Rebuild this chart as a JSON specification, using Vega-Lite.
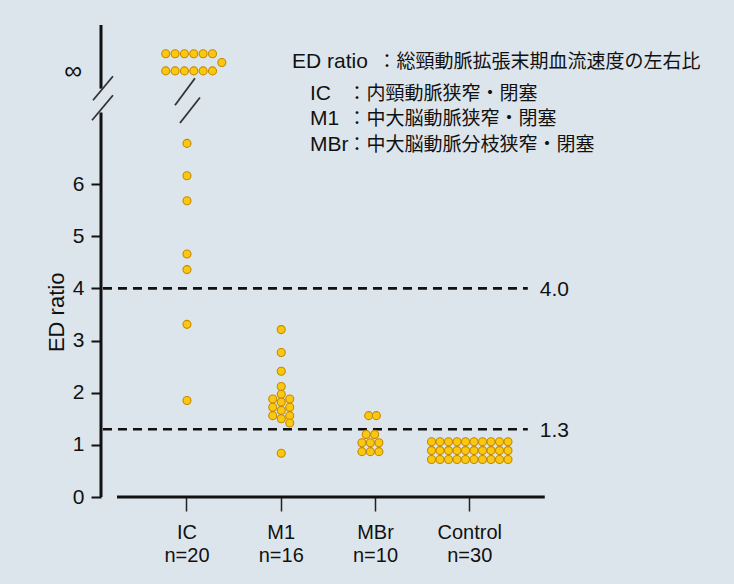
{
  "$schema": "https://vega.github.io/schema/vega-lite/v6.json",
  "width": 463,
  "height": 472,
  "autosize": {"type": "none"},
  "padding": {"left": 101, "top": 25, "right": 170, "bottom": 87},
  "background": "#dde5ec",
  "config": {
    "view": {"stroke": null},
    "font": "Liberation Sans",
    "axisY": {"tickSize": 10, "tickWidth": 2, "tickColor": "#111111", "labelPadding": 7, "labelFontSize": 21, "labelColor": "#111111", "domain": false, "grid": false}
  },
  "data": {"values": [{}]},
  "datasets": {
    "dots": [
      {"group": "IC", "ratio": 6.78, "col": 0},
      {"group": "IC", "ratio": 6.16, "col": 0},
      {"group": "IC", "ratio": 5.68, "col": 0},
      {"group": "IC", "ratio": 4.66, "col": 0},
      {"group": "IC", "ratio": 4.36, "col": 0},
      {"group": "IC", "ratio": 3.31, "col": 0},
      {"group": "IC", "ratio": 1.85, "col": 0},
      {"group": "IC", "ratio": 8.5, "col": -2.5},
      {"group": "IC", "ratio": 8.5, "col": -1.4},
      {"group": "IC", "ratio": 8.5, "col": -0.3},
      {"group": "IC", "ratio": 8.5, "col": 0.8},
      {"group": "IC", "ratio": 8.5, "col": 1.9},
      {"group": "IC", "ratio": 8.5, "col": 3.0},
      {"group": "IC", "ratio": 8.17, "col": -2.5},
      {"group": "IC", "ratio": 8.17, "col": -1.4},
      {"group": "IC", "ratio": 8.17, "col": -0.3},
      {"group": "IC", "ratio": 8.17, "col": 0.8},
      {"group": "IC", "ratio": 8.17, "col": 1.9},
      {"group": "IC", "ratio": 8.17, "col": 3.0},
      {"group": "IC", "ratio": 8.33, "col": 4.1},
      {"group": "M1", "ratio": 3.21, "col": 0},
      {"group": "M1", "ratio": 2.77, "col": 0},
      {"group": "M1", "ratio": 2.41, "col": 0},
      {"group": "M1", "ratio": 2.12, "col": 0},
      {"group": "M1", "ratio": 1.97, "col": 0},
      {"group": "M1", "ratio": 1.82, "col": 0},
      {"group": "M1", "ratio": 1.66, "col": 0},
      {"group": "M1", "ratio": 1.5, "col": 0},
      {"group": "M1", "ratio": 1.88, "col": -1},
      {"group": "M1", "ratio": 1.72, "col": -1},
      {"group": "M1", "ratio": 1.56, "col": -1},
      {"group": "M1", "ratio": 1.88, "col": 1},
      {"group": "M1", "ratio": 1.72, "col": 1},
      {"group": "M1", "ratio": 1.56, "col": 1},
      {"group": "M1", "ratio": 1.42, "col": 1},
      {"group": "M1", "ratio": 0.84, "col": 0},
      {"group": "MBr", "ratio": 1.56, "col": -0.8},
      {"group": "MBr", "ratio": 1.56, "col": 0.1},
      {"group": "MBr", "ratio": 1.2, "col": -1.1},
      {"group": "MBr", "ratio": 1.2, "col": -0.1},
      {"group": "MBr", "ratio": 1.04, "col": -1.6},
      {"group": "MBr", "ratio": 1.04, "col": -0.6},
      {"group": "MBr", "ratio": 1.04, "col": 0.4},
      {"group": "MBr", "ratio": 0.87, "col": -1.6},
      {"group": "MBr", "ratio": 0.87, "col": -0.6},
      {"group": "MBr", "ratio": 0.87, "col": 0.4},
      {"group": "Control", "ratio": 1.06, "col": -4.5},
      {"group": "Control", "ratio": 1.06, "col": -3.5},
      {"group": "Control", "ratio": 1.06, "col": -2.5},
      {"group": "Control", "ratio": 1.06, "col": -1.5},
      {"group": "Control", "ratio": 1.06, "col": -0.5},
      {"group": "Control", "ratio": 1.06, "col": 0.5},
      {"group": "Control", "ratio": 1.06, "col": 1.5},
      {"group": "Control", "ratio": 1.06, "col": 2.5},
      {"group": "Control", "ratio": 1.06, "col": 3.5},
      {"group": "Control", "ratio": 1.06, "col": 4.5},
      {"group": "Control", "ratio": 0.89, "col": -4.5},
      {"group": "Control", "ratio": 0.89, "col": -3.5},
      {"group": "Control", "ratio": 0.89, "col": -2.5},
      {"group": "Control", "ratio": 0.89, "col": -1.5},
      {"group": "Control", "ratio": 0.89, "col": -0.5},
      {"group": "Control", "ratio": 0.89, "col": 0.5},
      {"group": "Control", "ratio": 0.89, "col": 1.5},
      {"group": "Control", "ratio": 0.89, "col": 2.5},
      {"group": "Control", "ratio": 0.89, "col": 3.5},
      {"group": "Control", "ratio": 0.89, "col": 4.5},
      {"group": "Control", "ratio": 0.72, "col": -4.5},
      {"group": "Control", "ratio": 0.72, "col": -3.5},
      {"group": "Control", "ratio": 0.72, "col": -2.5},
      {"group": "Control", "ratio": 0.72, "col": -1.5},
      {"group": "Control", "ratio": 0.72, "col": -0.5},
      {"group": "Control", "ratio": 0.72, "col": 0.5},
      {"group": "Control", "ratio": 0.72, "col": 1.5},
      {"group": "Control", "ratio": 0.72, "col": 2.5},
      {"group": "Control", "ratio": 0.72, "col": 3.5},
      {"group": "Control", "ratio": 0.72, "col": 4.5}
    ],
    "thresholds": [{"ratio": 4.0}, {"ratio": 1.3}]
  },
  "resolve": {"scale": {"x": "independent"}, "axis": {"x": "independent"}},
  "layer": [
    {
      "layer": [
        {
          "data": {"name": "thresholds"},
          "mark": {"type": "rule", "strokeDash": [9, 6], "strokeWidth": 2.6, "color": "#111111"},
          "encoding": {
            "y": {
              "field": "ratio", "type": "quantitative",
              "scale": {"domain": [0, 9.05], "nice": false, "zero": false},
              "axis": {
                "values": [0, 0.5, 1, 1.5, 2, 2.5, 3, 3.5, 4, 4.5, 5, 5.5, 6, 6.5],
                "labelExpr": "datum.value % 1 === 0 ? datum.label : ''",
                "domain": false, "grid": false, "title": null,
                "tickSize": 10, "tickWidth": 2, "tickColor": "#111111",
                "labelFontSize": 21, "labelColor": "#111111", "labelPadding": 7,
                "labelFlush": false, "labelOverlap": false
              }
            },
            "x": {"datum": 0.109, "type": "quantitative", "scale": {"domain": [0.088, 5.0], "nice": false, "zero": false}, "axis": null},
            "x2": {"datum": 4.616}
          }
        },
        {
          "data": {"name": "thresholds"},
          "mark": {"type": "text", "align": "left", "baseline": "middle", "fontSize": 21, "color": "#111111", "dy": 2},
          "encoding": {
            "y": {"field": "ratio", "type": "quantitative"},
            "x": {"datum": 4.743, "type": "quantitative"},
            "text": {"field": "ratio", "type": "quantitative", "format": ".1f"}
          }
        },
        {
          "mark": {"type": "text", "align": "right", "baseline": "middle", "fontSize": 25, "color": "#111111"},
          "encoding": {"x": {"datum": -0.112, "type": "quantitative"}, "y": {"datum": 8.17, "type": "quantitative"}, "text": {"value": "∞"}}
        },
        {
          "mark": {"type": "rule", "strokeWidth": 3, "color": "#111111"},
          "encoding": {"x": {"datum": 0.088, "type": "quantitative"}, "y": {"datum": 0, "type": "quantitative"}, "y2": {"datum": 7.37}}
        },
        {
          "mark": {"type": "rule", "strokeWidth": 3, "color": "#111111"},
          "encoding": {"x": {"datum": 0.088, "type": "quantitative"}, "y": {"datum": 7.83, "type": "quantitative"}, "y2": {"datum": 9.05}}
        },
        {
          "mark": {"type": "rule", "strokeWidth": 3, "color": "#111111"},
          "encoding": {"y": {"datum": 0, "type": "quantitative"}, "x": {"datum": 0.258, "type": "quantitative"}, "x2": {"datum": 4.796}}
        },
        {
          "mark": {"type": "rule", "strokeWidth": 1.8, "color": "#333333"},
          "encoding": {"x": {"datum": 0.003, "type": "quantitative"}, "y": {"datum": 7.607, "type": "quantitative"}, "x2": {"datum": 0.215}, "y2": {"datum": 8.067}}
        },
        {
          "mark": {"type": "rule", "strokeWidth": 1.8, "color": "#333333"},
          "encoding": {"x": {"datum": -0.007, "type": "quantitative"}, "y": {"datum": 7.224, "type": "quantitative"}, "x2": {"datum": 0.215}, "y2": {"datum": 7.703}}
        },
        {
          "mark": {"type": "rule", "strokeWidth": 1.8, "color": "#333333"},
          "encoding": {"x": {"datum": 0.873, "type": "quantitative"}, "y": {"datum": 7.51, "type": "quantitative"}, "x2": {"datum": 1.085}, "y2": {"datum": 8.03}}
        },
        {
          "mark": {"type": "rule", "strokeWidth": 1.8, "color": "#333333"},
          "encoding": {"x": {"datum": 0.926, "type": "quantitative"}, "y": {"datum": 7.17, "type": "quantitative"}, "x2": {"datum": 1.138}, "y2": {"datum": 7.66}}
        },
        {
          "mark": {"type": "text", "angle": 270, "align": "center", "baseline": "middle", "fontSize": 22, "color": "#111111"},
          "encoding": {"x": {"datum": -0.379, "type": "quantitative"}, "y": {"datum": 3.54, "type": "quantitative"}, "text": {"value": "ED ratio"}}
        },
        {
          "mark": {"type": "text", "align": "left", "baseline": "middle", "fontSize": 21, "color": "#111111"},
          "encoding": {"x": {"datum": 2.114, "type": "quantitative"}, "y": {"datum": 8.336, "type": "quantitative"}, "text": {"value": "ED ratio"}}
        },
        {
          "mark": {"type": "text", "align": "left", "baseline": "middle", "fontSize": 19, "font": "Noto Sans CJK JP", "color": "#111111"},
          "encoding": {"x": {"datum": 3.021, "type": "quantitative"}, "y": {"datum": 8.336, "type": "quantitative"}, "text": {"value": "：総頸動脈拡張末期血流速度の左右比"}}
        },
        {
          "mark": {"type": "text", "align": "left", "baseline": "middle", "fontSize": 21, "color": "#111111"},
          "encoding": {"x": {"datum": 2.305, "type": "quantitative"}, "y": {"datum": 7.72, "type": "quantitative"}, "text": {"value": "IC"}}
        },
        {
          "mark": {"type": "text", "align": "left", "baseline": "middle", "fontSize": 21, "color": "#111111"},
          "encoding": {"x": {"datum": 2.305, "type": "quantitative"}, "y": {"datum": 7.245, "type": "quantitative"}, "text": {"value": "M1"}}
        },
        {
          "mark": {"type": "text", "align": "left", "baseline": "middle", "fontSize": 21, "color": "#111111"},
          "encoding": {"x": {"datum": 2.305, "type": "quantitative"}, "y": {"datum": 6.744, "type": "quantitative"}, "text": {"value": "MBr"}}
        },
        {
          "mark": {"type": "text", "align": "left", "baseline": "middle", "fontSize": 19, "font": "Noto Sans CJK JP", "color": "#111111"},
          "encoding": {"x": {"datum": 2.703, "type": "quantitative"}, "y": {"datum": 7.72, "type": "quantitative"}, "text": {"value": "：内頸動脈狭窄・閉塞"}}
        },
        {
          "mark": {"type": "text", "align": "left", "baseline": "middle", "fontSize": 19, "font": "Noto Sans CJK JP", "color": "#111111"},
          "encoding": {"x": {"datum": 2.703, "type": "quantitative"}, "y": {"datum": 7.245, "type": "quantitative"}, "text": {"value": "：中大脳動脈狭窄・閉塞"}}
        },
        {
          "mark": {"type": "text", "align": "left", "baseline": "middle", "fontSize": 19, "font": "Noto Sans CJK JP", "color": "#111111"},
          "encoding": {"x": {"datum": 2.703, "type": "quantitative"}, "y": {"datum": 6.744, "type": "quantitative"}, "text": {"value": "：中大脳動脈分枝狭窄・閉塞"}}
        }
      ]
    },
    {
      "data": {"name": "dots"},
      "mark": {"type": "circle", "size": 64, "fill": "#f8c910", "stroke": "#c98800", "strokeWidth": 1.1, "opacity": 1},
      "encoding": {
        "x": {
          "field": "group", "type": "nominal", "sort": ["IC", "M1", "MBr", "Control"],
          "scale": {"type": "band", "domain": ["IC", "M1", "MBr", "Control"], "paddingInner": 0, "paddingOuter": 0.456, "align": 0.452},
          "axis": {
            "orient": "bottom",
            "labelExpr": "[datum.label, {'IC': 'n=20', 'M1': 'n=16', 'MBr': 'n=10', 'Control': 'n=30'}[datum.label]]",
            "labelAngle": 0,
            "domain": false, "grid": false, "title": null,
            "tickSize": 14, "tickWidth": 1.5, "tickColor": "#222222",
            "labelFontSize": 20, "labelColor": "#111111", "labelPadding": 11, "labelLineHeight": 23,
            "labelFlush": false, "labelOverlap": false
          }
        },
        "xOffset": {"field": "col", "type": "quantitative", "scale": {"domain": [-1, 1], "range": [38.63, 55.63]}},
        "y": {"field": "ratio", "type": "quantitative"}
      }
    }
  ]
}
